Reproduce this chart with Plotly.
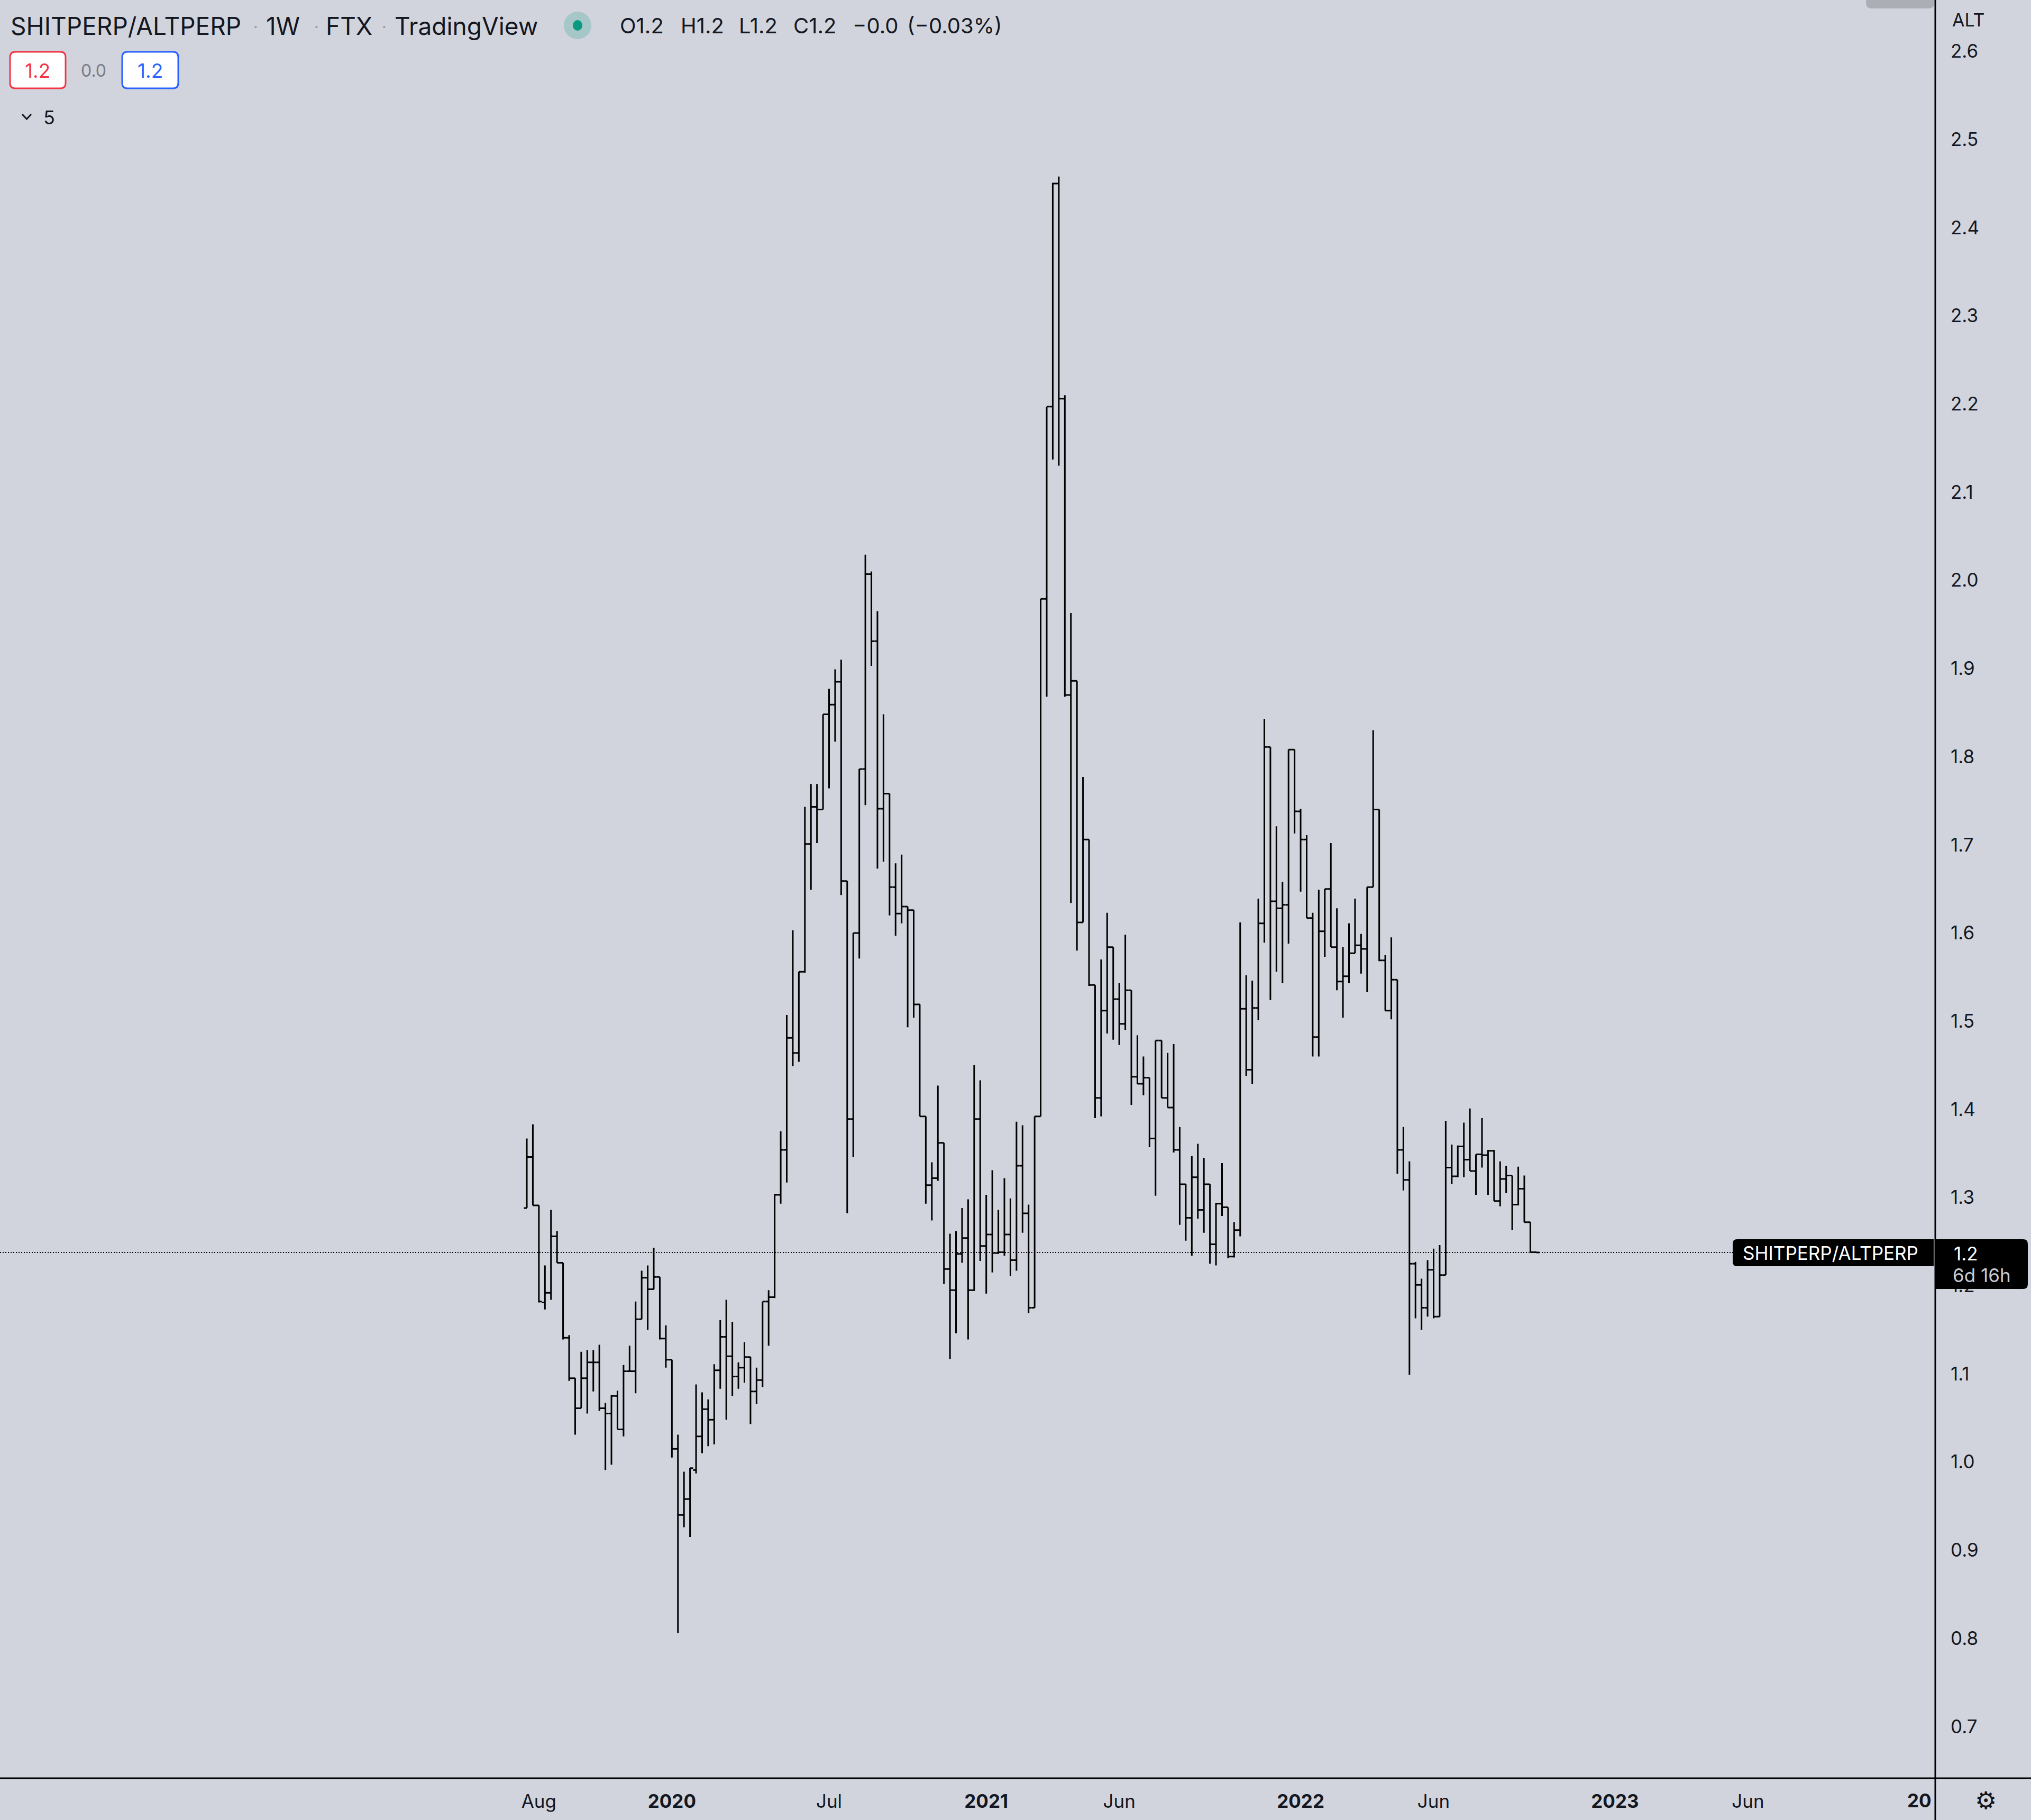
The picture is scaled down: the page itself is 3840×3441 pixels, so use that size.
import plotly.graph_objects as go
import pandas as pd

# ---------------- data (weekly OHLC, SHITPERP/ALTPERP, FTX) ----------------
start_week = "2019-07-22"
opens = [1.288, 1.346, 1.291, 1.181, 1.192, 1.256, 1.226, 1.141, 1.095, 1.061,
         1.095, 1.113, 1.113, 1.061, 1.055, 1.075, 1.037, 1.103, 1.103, 1.162,
         1.209, 1.196, 1.210, 1.140, 1.116, 1.015, 0.940, 0.958, 0.991, 1.029,
         1.060, 1.048, 1.104, 1.142, 1.120, 1.097, 1.107, 1.119, 1.080, 1.093,
         1.182, 1.187, 1.303, 1.354, 1.481, 1.464, 1.556, 1.701, 1.743, 1.740,
         1.848, 1.859, 1.885, 1.659, 1.389, 1.600, 1.786, 2.007, 1.931, 1.741,
         1.758, 1.652, 1.622, 1.630, 1.626, 1.519, 1.392, 1.314, 1.322, 1.362,
         1.219, 1.195, 1.236, 1.254, 1.195, 1.389, 1.245, 1.258, 1.237, 1.238,
         1.258, 1.229, 1.336, 1.282, 1.175, 1.392, 1.979, 2.197, 2.450, 2.206,
         1.870, 1.886, 1.612, 1.706, 1.541, 1.413, 1.512, 1.584, 1.525, 1.497,
         1.535, 1.437, 1.429, 1.436, 1.367, 1.478, 1.413, 1.402, 1.354, 1.315,
         1.277, 1.323, 1.286, 1.315, 1.247, 1.293, 1.289, 1.233, 1.263, 1.514,
         1.445, 1.515, 1.611, 1.811, 1.636, 1.628, 1.632, 1.808, 1.738, 1.706,
         1.617, 1.482, 1.602, 1.650, 1.584, 1.545, 1.551, 1.577, 1.586, 1.582,
         1.652, 1.740, 1.569, 1.512, 1.547, 1.354, 1.320, 1.225, 1.201, 1.175,
         1.218, 1.165, 1.212, 1.334, 1.324, 1.358, 1.343, 1.330, 1.349, 1.348,
         1.353, 1.296, 1.321, 1.325, 1.292, 1.310, 1.272, 1.238]
highs = [1.367, 1.383, 1.291, 1.223, 1.286, 1.262, 1.226, 1.144, 1.095, 1.125,
         1.127, 1.127, 1.133, 1.067, 1.076, 1.081, 1.110, 1.132, 1.182, 1.217,
         1.223, 1.243, 1.210, 1.155, 1.116, 1.031, 0.989, 0.993, 1.088, 1.079,
         1.071, 1.111, 1.161, 1.184, 1.159, 1.113, 1.136, 1.119, 1.107, 1.182,
         1.195, 1.304, 1.375, 1.507, 1.603, 1.556, 1.743, 1.769, 1.769, 1.848,
         1.877, 1.899, 1.910, 1.659, 1.600, 1.786, 2.029, 2.010, 1.965, 1.848,
         1.758, 1.679, 1.689, 1.630, 1.626, 1.519, 1.392, 1.340, 1.427, 1.362,
         1.259, 1.262, 1.288, 1.298, 1.450, 1.433, 1.303, 1.331, 1.286, 1.322,
         1.299, 1.386, 1.382, 1.292, 1.392, 1.979, 2.197, 2.451, 2.458, 2.210,
         1.963, 1.886, 1.777, 1.706, 1.541, 1.570, 1.623, 1.584, 1.543, 1.598,
         1.535, 1.484, 1.460, 1.436, 1.478, 1.478, 1.464, 1.474, 1.380, 1.315,
         1.347, 1.361, 1.345, 1.315, 1.294, 1.339, 1.289, 1.272, 1.612, 1.552,
         1.546, 1.639, 1.843, 1.811, 1.721, 1.658, 1.808, 1.808, 1.741, 1.711,
         1.623, 1.649, 1.650, 1.702, 1.628, 1.584, 1.611, 1.639, 1.599, 1.652,
         1.830, 1.740, 1.575, 1.595, 1.547, 1.380, 1.341, 1.227, 1.208, 1.229,
         1.242, 1.246, 1.387, 1.360, 1.359, 1.385, 1.401, 1.349, 1.390, 1.354,
         1.354, 1.341, 1.336, 1.325, 1.335, 1.325, 1.272, 1.2382]
lows = [1.288, 1.291, 1.181, 1.173, 1.184, 1.226, 1.139, 1.092, 1.031, 1.061,
        1.055, 1.080, 1.058, 0.991, 0.997, 1.037, 1.029, 1.103, 1.078, 1.162,
        1.150, 1.196, 1.139, 1.107, 1.005, 0.806, 0.926, 0.915, 0.987, 1.010,
        1.018, 1.020, 1.083, 1.048, 1.075, 1.083, 1.090, 1.043, 1.066, 1.085,
        1.132, 1.186, 1.293, 1.317, 1.449, 1.454, 1.555, 1.649, 1.702, 1.740,
        1.764, 1.817, 1.643, 1.282, 1.346, 1.571, 1.745, 1.903, 1.673, 1.681,
        1.620, 1.597, 1.611, 1.493, 1.504, 1.392, 1.293, 1.274, 1.319, 1.202,
        1.117, 1.146, 1.226, 1.139, 1.194, 1.228, 1.191, 1.215, 1.236, 1.234,
        1.211, 1.217, 1.260, 1.169, 1.175, 1.392, 1.868, 2.137, 2.130, 1.868,
        1.634, 1.580, 1.612, 1.540, 1.390, 1.392, 1.486, 1.479, 1.473, 1.490,
        1.405, 1.429, 1.416, 1.357, 1.302, 1.413, 1.402, 1.351, 1.269, 1.251,
        1.234, 1.276, 1.260, 1.225, 1.223, 1.279, 1.231, 1.232, 1.256, 1.438,
        1.429, 1.501, 1.589, 1.524, 1.556, 1.543, 1.588, 1.713, 1.647, 1.617,
        1.460, 1.460, 1.573, 1.584, 1.535, 1.504, 1.543, 1.577, 1.554, 1.533,
        1.652, 1.568, 1.512, 1.502, 1.327, 1.308, 1.099, 1.163, 1.150, 1.165,
        1.163, 1.165, 1.212, 1.315, 1.323, 1.323, 1.330, 1.303, 1.334, 1.303,
        1.296, 1.290, 1.305, 1.263, 1.291, 1.272, 1.238, 1.2374]
closes = [1.346, 1.291, 1.182, 1.192, 1.256, 1.226, 1.141, 1.095, 1.061, 1.095,
          1.113, 1.113, 1.061, 1.055, 1.075, 1.037, 1.103, 1.103, 1.162, 1.209,
          1.196, 1.210, 1.140, 1.116, 1.015, 0.940, 0.958, 0.993, 1.029, 1.060,
          1.048, 1.104, 1.142, 1.120, 1.097, 1.107, 1.119, 1.080, 1.093, 1.182,
          1.187, 1.303, 1.354, 1.481, 1.464, 1.556, 1.701, 1.743, 1.740, 1.848,
          1.859, 1.885, 1.659, 1.389, 1.600, 1.786, 2.007, 1.931, 1.741, 1.758,
          1.652, 1.622, 1.630, 1.626, 1.519, 1.392, 1.314, 1.322, 1.362, 1.219,
          1.195, 1.236, 1.254, 1.195, 1.389, 1.245, 1.258, 1.237, 1.238, 1.258,
          1.229, 1.336, 1.282, 1.175, 1.392, 1.979, 2.197, 2.450, 2.206, 1.870,
          1.886, 1.612, 1.706, 1.541, 1.413, 1.512, 1.584, 1.525, 1.497, 1.535,
          1.437, 1.429, 1.436, 1.367, 1.478, 1.413, 1.402, 1.354, 1.315, 1.277,
          1.323, 1.286, 1.315, 1.247, 1.293, 1.289, 1.233, 1.263, 1.514, 1.445,
          1.515, 1.611, 1.811, 1.636, 1.628, 1.632, 1.808, 1.738, 1.706, 1.617,
          1.482, 1.602, 1.650, 1.584, 1.545, 1.551, 1.577, 1.586, 1.582, 1.652,
          1.740, 1.569, 1.512, 1.547, 1.354, 1.320, 1.225, 1.201, 1.175, 1.218,
          1.165, 1.212, 1.334, 1.324, 1.358, 1.343, 1.330, 1.349, 1.348, 1.353,
          1.296, 1.321, 1.325, 1.292, 1.310, 1.272, 1.238, 1.2376]
last_price = 1.2377

price_ticks = [0.7, 0.8, 0.9, 1.0, 1.1, 1.2, 1.3, 1.4, 1.5, 1.6,
               1.7, 1.8, 1.9, 2.0, 2.1, 2.2, 2.3, 2.4, 2.5, 2.6]
date_tick_vals = ["2019-08-05", "2020-01-06", "2020-07-06", "2021-01-04", "2021-06-07",
                  "2022-01-03", "2022-06-06", "2023-01-02", "2023-06-05"]
date_tick_text = ["Aug", "<b>2020</b>", "Jul", "<b>2021</b>", "Jun",
                  "<b>2022</b>", "Jun", "<b>2023</b>", "Jun"]
legend_tokens = ["O1.2", "H1.2", "L1.2", "C1.2", "\u22120.0", "(\u22120.03%)"]

# ---------------- layout geometry (pixels) ----------------
W, H = 3840, 3441
PR, PB = 3659, 3362          # plot right edge, plot bottom edge
BG = "#d1d4dc"
TXT = "#131722"
FONT = "Inter, Roboto, Arial, sans-serif"

dates = pd.date_range(start_week, periods=len(opens), freq="7D")
t0 = pd.Timestamp(start_week)
x_left = t0 - pd.Timedelta(days=7 * 87.14)
x_right = t0 + pd.Timedelta(days=7 * 232.98)
y_bottom = 2.6 - (PB - 97) / 1667.0
y_top = 2.6 + 97 / 1667.0


def px(x, y):
    return x / PR, 1 - y / PB


def rrect(x0, y0, x1, y1, r, tl=True, tr=True, br=True, bl=True):
    def P(x, y):
        a, b = px(x, y)
        return f"{a:.6f},{b:.6f}"
    s = f"M {P(x0 + (r if tl else 0), y0)} "
    s += f"L {P(x1 - (r if tr else 0), y0)} "
    if tr:
        s += f"Q {P(x1, y0)} {P(x1, y0 + r)} "
    s += f"L {P(x1, y1 - (r if br else 0))} "
    if br:
        s += f"Q {P(x1, y1)} {P(x1 - r, y1)} "
    s += f"L {P(x0 + (r if bl else 0), y1)} "
    if bl:
        s += f"Q {P(x0, y1)} {P(x0, y1 - r)} "
    s += f"L {P(x0, y0 + (r if tl else 0))} "
    if tl:
        s += f"Q {P(x0, y0)} {P(x0 + r, y0)} "
    return s + "Z"


fig = go.Figure(go.Ohlc(
    x=dates, open=opens, high=highs, low=lows, close=closes,
    increasing=dict(line=dict(color="#000000", width=3)),
    decreasing=dict(line=dict(color="#000000", width=3)),
    tickwidth=0.5, hoverinfo="skip", showlegend=False,
))

shapes = []
annotations = []


def text(x, y, s, size, color=TXT, anchor="left", family=FONT):
    a, b = px(x, y)
    annotations.append(dict(x=a, y=b, xref="paper", yref="paper", text=s, showarrow=False,
                            xanchor=anchor, yanchor="middle",
                            font=dict(size=size, color=color, family=family)))


# price line (dotted)
shapes.append(dict(type="line", xref="paper", yref="y", x0=0, x1=3276 / PR,
                   y0=last_price, y1=last_price, layer="below",
                   line=dict(color="#000000", width=2, dash="2px,3px")))
# axis border lines
shapes.append(dict(type="line", xref="paper", yref="paper", x0=0, x1=W / PR,
                   y0=0, y1=0, layer="above", line=dict(color="#000000", width=3)))
shapes.append(dict(type="line", xref="paper", yref="paper", x0=1, x1=1,
                   y0=1, y1=1 - H / PB, layer="above", line=dict(color="#000000", width=3)))
# top-right shadow of a popup
shapes.append(dict(type="path", xref="paper", yref="paper", layer="above",
                   path=rrect(3528, -10, 3657, 16, 10), fillcolor="rgba(40,40,50,0.22)",
                   line=dict(width=0)))

# price labels
shapes.append(dict(type="path", xref="paper", yref="paper", layer="above",
                   path=rrect(3276, 2343, 3656, 2394, 8, tr=False, br=False),
                   fillcolor="#000000", line=dict(width=0)))
shapes.append(dict(type="path", xref="paper", yref="paper", layer="above",
                   path=rrect(3659, 2343, 3834, 2437, 9, tl=False, bl=False),
                   fillcolor="#000000", line=dict(width=0)))
text(3293, 2369, "SHITPERP/ALTPERP", 35, "#ffffff")
text(3692, 2370, "1.2", 35, "#ffffff")
text(3690, 2411, "6d 16h", 35, "#c9ccd4")

# header
text(18, 49, "SHITPERP/ALTPERP", 46)
text(501, 49, "1W", 46)
text(614, 49, "FTX", 46)
text(744, 49, "TradingView", 46)
for dx in (483, 598, 726):
    text(dx, 50, "·", 30, "#9598a1", anchor="center")
cx, cy = 1092, 48
a0, b0 = px(cx - 26, cy - 26)
a1, b1 = px(cx + 26, cy + 26)
shapes.append(dict(type="circle", xref="paper", yref="paper", x0=a0, y0=b0, x1=a1, y1=b1,
                   fillcolor="rgba(8,153,129,0.22)", line=dict(width=0), layer="above"))
a0, b0 = px(cx - 9, cy - 10)
a1, b1 = px(cx + 9, cy + 10)
shapes.append(dict(type="circle", xref="paper", yref="paper", x0=a0, y0=b0, x1=a1, y1=b1,
                   fillcolor="#089981", line=dict(width=0), layer="above"))
for tx, tok in zip((1170, 1285, 1395, 1498, 1610, 1713), legend_tokens):
    text(tx, 49, tok, 40)

# second row: value boxes
shapes.append(dict(type="path", xref="paper", yref="paper", layer="above",
                   path=rrect(19, 98, 124, 167, 10), fillcolor="#ffffff",
                   line=dict(color="#f23645", width=3)))
shapes.append(dict(type="path", xref="paper", yref="paper", layer="above",
                   path=rrect(231, 98, 337, 167, 10), fillcolor="#ffffff",
                   line=dict(color="#2962ff", width=3)))
text(71, 133, "1.2", 37, "#f23645", anchor="center")
text(177, 133, "0.0", 32, "#787b86", anchor="center")
text(284, 133, "1.2", 37, "#2962ff", anchor="center")

# third row: collapse chevron + count
p1, p2, p3 = px(42, 216), px(50.5, 225), px(59, 216)
shapes.append(dict(type="path", xref="paper", yref="paper", layer="above",
                   path=f"M {p1[0]},{p1[1]} L {p2[0]},{p2[1]} L {p3[0]},{p3[1]}",
                   line=dict(color=TXT, width=3)))
text(80, 222, "5", 36)

# right axis caption, clipped year label and settings icon
text(3689, 38, "ALT", 34)
text(3604, 3404, "<b>20</b>", 35)
text(3754, 3404, "\u2699", 46, anchor="center", family="DejaVu Sans")

fig.update_layout(
    width=W, height=H,
    margin=dict(l=0, r=W - PR, t=0, b=H - PB, pad=0),
    paper_bgcolor=BG, plot_bgcolor=BG,
    font=dict(family=FONT, color=TXT, size=35),
    shapes=shapes, annotations=annotations,
    showlegend=False,
    xaxis=dict(type="date", range=[x_left, x_right], rangeslider=dict(visible=False),
               showgrid=False, zeroline=False, showline=False, ticks="",
               tickmode="array", tickvals=date_tick_vals, ticktext=date_tick_text,
               tickfont=dict(size=35, color=TXT, family=FONT),
               ticklabelstandoff=20, fixedrange=True),
    yaxis=dict(side="right", range=[y_bottom, y_top], showgrid=False, zeroline=False,
               showline=False, ticks="", tickmode="array", tickvals=price_ticks,
               ticktext=[f"{v:.1f}" for v in price_ticks],
               tickfont=dict(size=35, color=TXT, family=FONT),
               ticklabelstandoff=28, fixedrange=True),
)

fig.write_html("out.html", config={"displayModeBar": False},
               post_script="document.body.style.margin='0';document.body.style.overflow='hidden';")
